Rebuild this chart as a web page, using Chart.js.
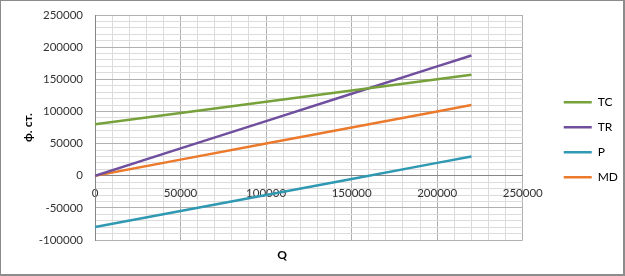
<!DOCTYPE html>
<html>
<head>
<meta charset="utf-8">
<script src="https://cdn.jsdelivr.net/npm/chart.js@4"></script>
<style>
html, body { margin: 0; padding: 0; background: #fff; }
#wrap {
    position: relative;
    width: 625px;
    height: 276px;
    box-sizing: border-box;
    border: 1px solid #8c8c8c;
    border-right-width: 2px;
    border-bottom-width: 2px;
}
</style>
</head>
<body>
<div id="wrap"><canvas id="chart"></canvas></div>
<script>
// values
const quantities = [0, 50000, 100000, 150000, 200000, 220000];
const totalCost = [80000, 97500, 115000, 132500, 150000, 157000];
const totalRevenue = [0, 42500, 85000, 127500, 170000, 187000];
const profit = [-80000, -55000, -30000, -5000, 20000, 30000];
const marginalIncome = [0, 25000, 50000, 75000, 100000, 110000];
const seriesNames = ['TC', 'TR', 'P', 'MD'];
const xTicks = [0, 50000, 100000, 150000, 200000, 250000];
const yTicks = [-100000, -50000, 0, 50000, 100000, 150000, 200000, 250000];

const colors = ['#77a13b', '#6f4f9e', '#2f98b2', '#ec7a2d'];
const fontFamily = 'Lato, "Open Sans", "DejaVu Sans", sans-serif';

function points(values) {
    return quantities.map((q, i) => ({ x: q, y: values[i] }));
}

const allSeries = [totalCost, totalRevenue, profit, marginalIncome];

const datasets = allSeries.map((values, i) => ({
    label: seriesNames[i],
    data: points(values),
    borderColor: colors[i],
    backgroundColor: colors[i],
    borderWidth: 2.5,
    pointRadius: 0,
    fill: false,
    tension: 0
}));

function gridColor(ctx) {
    if (!ctx.tick) return '#d9d9d9';
    return ctx.tick.value % 50000 === 0 ? '#b0b0b0' : '#dcdcdc';
}

function majorLabel(list) {
    return function (value) {
        return list.includes(value) ? String(value) : '';
    };
}

// axis title under the plot, where Excel put it
const qTitle = {
    id: 'qTitle',
    afterDraw(chart) {
        const ctx = chart.ctx;
        ctx.save();
        ctx.font = 'bold 12px ' + fontFamily;
        ctx.fillStyle = '#000';
        ctx.textAlign = 'center';
        ctx.textBaseline = 'middle';
        ctx.fillText('Q', 281, 254);
        ctx.restore();
    }
};

new Chart(document.getElementById('chart'), {
    type: 'line',
    data: { datasets: datasets },
    plugins: [qTitle],
    options: {
        responsive: true,
        maintainAspectRatio: false,
        animation: false,
        layout: { padding: { left: 0, top: 14, right: -5, bottom: 34 } },
        plugins: {
            tooltip: { enabled: false },
            legend: {
                position: 'right',
                title: {
                    display: true,
                    text: ' ',
                    padding: 5,
                    font: { family: fontFamily, size: 12 }
                },
                labels: {
                    usePointStyle: true,
                    pointStyle: 'line',
                    pointStyleWidth: 28,
                    padding: 13,
                    color: '#000',
                    font: { family: fontFamily, size: 12 }
                }
            }
        },
        scales: {
            x: {
                type: 'linear',
                position: { y: 0 },
                min: 0,
                max: 250000,
                afterFit(scale) {
                    scale.height = 0;
                    scale.paddingTop = 0;
                    scale.paddingBottom = 0;
                },
                ticks: {
                    stepSize: 10000,
                    autoSkip: false,
                    maxRotation: 0,
                    padding: 11,
                    color: '#333',
                    font: { family: fontFamily, size: 11.5 },
                    callback: majorLabel(xTicks)
                },
                grid: { color: gridColor, drawTicks: false },
                border: { color: '#868686', width: 1 }
            },
            y: {
                type: 'linear',
                position: 'left',
                min: -100000,
                max: 250000,
                afterFit(scale) {
                    scale.width = 94;
                    scale.paddingTop = 0;
                    scale.paddingBottom = 0;
                },
                ticks: {
                    stepSize: 10000,
                    autoSkip: false,
                    padding: 12,
                    color: '#333',
                    font: { family: fontFamily, size: 11.5 },
                    callback: majorLabel(yTicks)
                },
                grid: { color: gridColor, drawTicks: false },
                border: { color: '#868686', width: 1 },
                title: {
                    display: true,
                    text: 'ф. ст.',
                    color: '#000',
                    padding: { top: 20, bottom: 0 },
                    font: { family: fontFamily, size: 12, weight: 'bold' }
                }
            },
            gap: {
                type: 'linear',
                position: 'right',
                display: true,
                afterFit(scale) {
                    scale.width = 28;
                    scale.paddingTop = 0;
                    scale.paddingBottom = 0;
                },
                ticks: { display: false },
                grid: { display: false, drawOnChartArea: false },
                border: { display: false }
            }
        }
    }
});
</script>
</body>
</html>
